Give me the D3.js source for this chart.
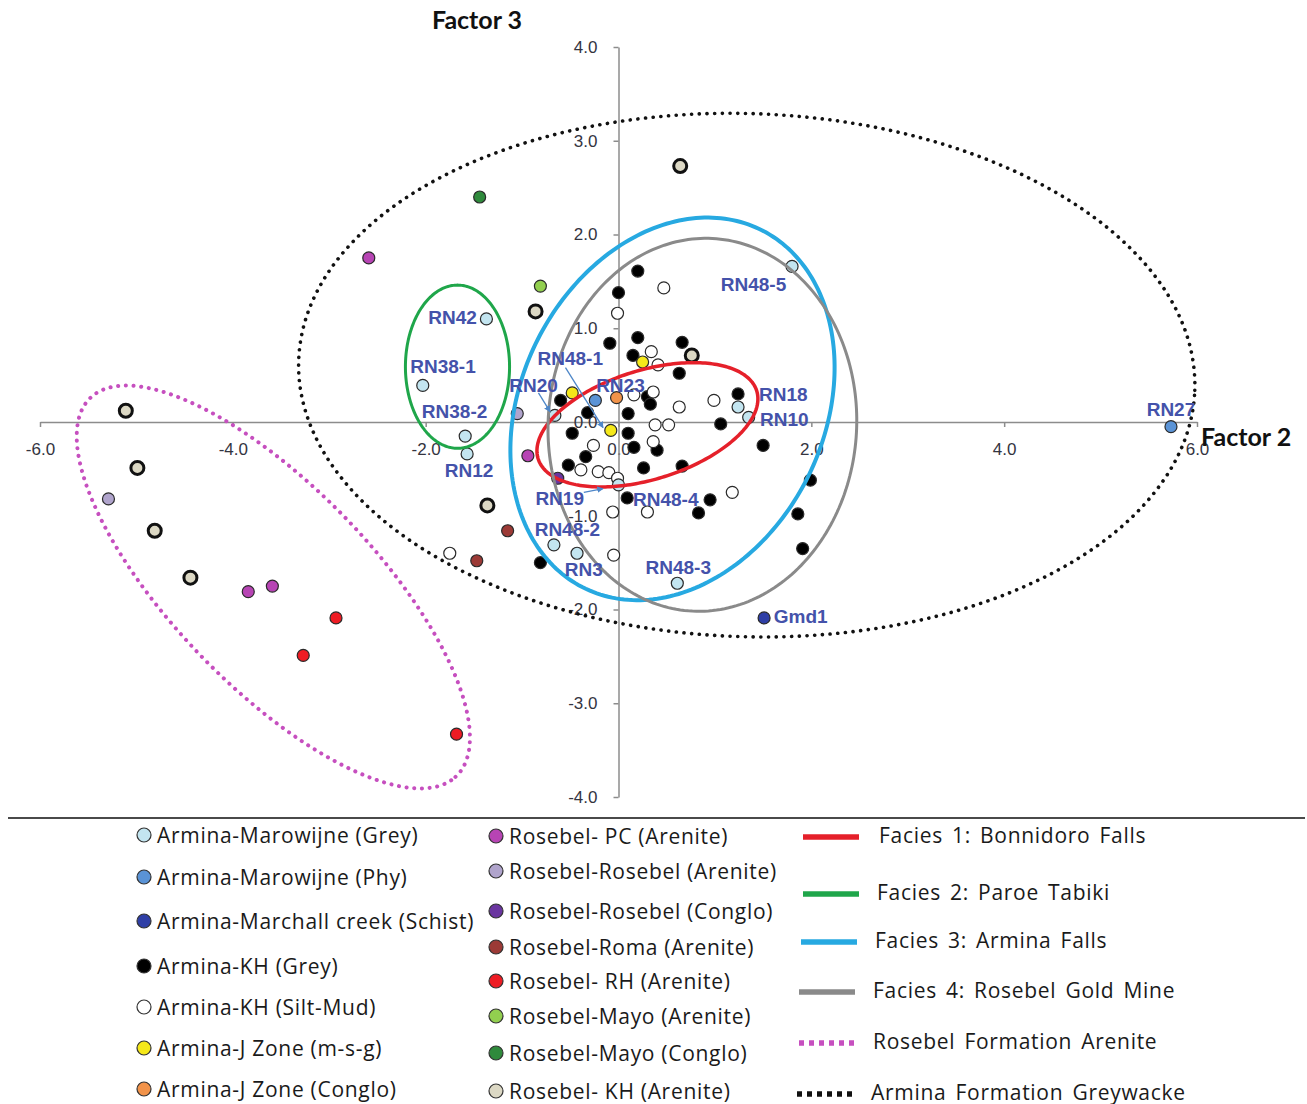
<!DOCTYPE html>
<html>
<head>
<meta charset="utf-8">
<script src="https://cdn.jsdelivr.net/npm/d3@7"></script>
<style>
  body { margin: 0; background: #fff; }
  svg { display: block; }
</style>
</head>
<body>
<svg id="chart" width="1307" height="1104"></svg>
<script>
// ---- Factor scores (Factor 2, Factor 3) per sample group ----
const marowijneGrey = [[-1.37,1.10],[-2.03,0.39],[-1.59,-0.15],[-1.57,-0.34],[-0.66,0.07],[1.80,1.66],
  [1.24,0.16],[1.35,0.05],[-0.67,-1.31],[-0.43,-1.40],[0.61,-1.72],[0.00,-0.67]];
const marowijnePhy = [[5.73,-0.05],[-0.24,0.23]];
const marchallSchist = [[1.51,-2.09]];
const khGrey = [[0.20,1.61],[0.00,1.38],[-0.09,0.84],[0.20,0.90],[0.15,0.71],[0.66,0.85],[0.63,0.52],
  [-0.60,0.23],[-0.32,0.10],[0.30,0.27],[0.33,0.19],[0.10,0.09],[-0.48,-0.12],[0.10,-0.12],[0.16,-0.27],
  [1.06,-0.02],[1.24,0.30],[-0.34,-0.37],[-0.52,-0.46],[0.40,-0.30],[0.26,-0.49],[0.66,-0.47],[0.09,-0.81],
  [0.95,-0.83],[0.83,-0.97],[-0.81,-1.50],[1.50,-0.25],[1.99,-0.62],[1.86,-0.98],[1.91,-1.35]];
const khSiltMud = [[0.47,1.43],[-0.01,1.16],[0.34,0.75],[0.41,0.61],[0.36,0.32],[0.16,0.29],[0.63,0.16],
  [0.99,0.23],[0.38,-0.03],[0.52,-0.03],[-0.26,-0.25],[0.36,-0.21],[-0.39,-0.51],[-0.21,-0.53],[-0.10,-0.54],
  [-0.01,-0.60],[-0.06,-0.96],[0.30,-0.96],[1.18,-0.75],[-0.05,-1.42],[-1.75,-1.40]];
const jZoneMsg = [[-0.48,0.31],[-0.08,-0.09],[0.25,0.64]];
const jZoneConglo = [[-0.02,0.26]];
const rosebelPC = [[-2.59,1.75],[-3.84,-1.81],[-3.59,-1.75],[-0.94,-0.36]];
const rosebelArenite = [[-5.29,-0.82],[-1.05,0.09]];
const rosebelConglo = [[-0.63,-0.60]];
const romaArenite = [[-1.15,-1.16],[-1.47,-1.48]];
const rhArenite = [[-2.93,-2.09],[-3.27,-2.49],[-1.68,-3.33]];
const mayoArenite = [[-0.81,1.45]];
const mayoConglo = [[-1.44,2.40]];
const khArenite = [[-5.11,0.12],[-4.99,-0.49],[-4.81,-1.16],[-4.44,-1.66],[-1.36,-0.89],[-0.86,1.18],
  [0.64,2.73],[0.76,0.71]];

const seriesNames = ["Armina-Marowijne (Grey)","Armina-Marowijne (Phy)","Armina-Marchall creek (Schist)",
  "Armina-KH (Grey)","Armina-KH (Silt-Mud)","Armina-J Zone (m-s-g)","Armina-J Zone (Conglo)",
  "Rosebel- PC (Arenite)","Rosebel-Rosebel (Arenite)","Rosebel-Rosebel (Conglo)","Rosebel-Roma (Arenite)",
  "Rosebel- RH (Arenite)","Rosebel-Mayo (Arenite)","Rosebel-Mayo (Conglo)","Rosebel- KH (Arenite)"];
const seriesData = [marowijneGrey, marowijnePhy, marchallSchist, khGrey, khSiltMud, jZoneMsg, jZoneConglo,
  rosebelPC, rosebelArenite, rosebelConglo, romaArenite, rhArenite, mayoArenite, mayoConglo, khArenite];
const seriesFill = ["#c3e5f0","#5a93d6","#2f3fa6","#000000","#ffffff","#f5e81a","#f2934a",
  "#b744b4","#b0a4cc","#6a35a0","#9c3a36","#ee1c24","#92cf4f","#2f8a3c","#dcd8c4"];
// draw order: dark/open groups first so coloured samples stay visible
const drawOrder = [3,4,14,7,8,9,10,11,12,13,0,1,2,6,5];

// ---- Facies envelopes: centre, semi-axes (data units) and rotation (deg) ----
const faciesNames = ["Facies 1: Bonnidoro Falls","Facies 2: Paroe Tabiki","Facies 3: Armina Falls",
  "Facies 4: Rosebel Gold Mine","Rosebel Formation Arenite","Armina Formation Greywacke"];
const faciesCenter = [[0.30,-0.03],[-1.67,0.59],[0.56,0.14],[0.87,-0.03],[-3.58,-1.76],[1.33,0.50]];
const faciesAxes = [[1.19,0.58],[0.54,0.87],[1.58,2.12],[1.60,1.99],[2.77,1.05],[4.65,2.79]];
const faciesAngle = [18, 0, -24, -3, -47, -2];
const faciesColor = ["#e5202a","#1fa64a","#27a9e1","#8a8a8a","#c64fbf","#111111"];
const faciesWidth = [3.5, 3, 4, 3, 4, 3.6];
const faciesDotted = [false,false,false,false,true,true];

// ---- Sample labels ----
const labelText = ["RN48-5","RN42","RN38-1","RN48-1","RN20","RN23","RN38-2","RN18","RN10","RN12",
  "RN19","RN48-4","RN48-2","RN3","RN48-3","Gmd1","RN27"];
const labelX = [1.40,-1.72,-1.82,-0.50,-0.88,0.02,-1.70,1.71,1.72,-1.55,-0.61,0.49,-0.53,-0.36,0.62,1.89,5.73];
const labelY = [1.47,1.11,0.59,0.68,0.39,0.39,0.11,0.29,0.03,-0.52,-0.82,-0.83,-1.15,-1.57,-1.55,-2.07,0.13];
const arrowFrom = [[-0.83,0.31],[-0.55,0.58],[-0.36,-0.75]];
const arrowTo = [[-0.71,0.11],[-0.16,-0.06],[-0.16,-0.71]];

const xTicks = [-6,-4,-2,0,2,4,6];
const yTicks = [-4,-3,-2,-1,0,1,2,3,4];

// ---- Scales ----
const svg = d3.select("#chart");
const x = d3.scaleLinear().domain([-6, 6]).range([40, 1197]);
const y = d3.scaleLinear().domain([-4, 4]).range([797, 47]);
const fmt = d => d.toFixed(1);

// ---- Axes ----
const axisColor = "#8c8c8c";
const gx = svg.append("g").attr("transform", `translate(0,${y(0)})`)
  .call(d3.axisBottom(x).tickValues(xTicks).tickFormat(fmt).tickSize(5).tickSizeOuter(0).tickPadding(16));
const gy = svg.append("g").attr("transform", `translate(${x(0)},0)`)
  .call(d3.axisLeft(y).tickValues(yTicks).tickFormat(fmt).tickSize(5).tickSizeOuter(0).tickPadding(16));
[gx, gy].forEach(g => {
  g.select(".domain").attr("stroke", axisColor).attr("stroke-width", 1.5);
  g.selectAll(".tick line").attr("stroke", axisColor).attr("stroke-width", 1.5);
  g.selectAll(".tick text").attr("fill", "#34343f")
    .style("font-family", "'Liberation Sans', Arial, sans-serif").style("font-size", "17px");
});

// axis titles
svg.append("text").attr("x", 477).attr("y", 29).attr("text-anchor", "middle")
  .style("font-family", "Lato, sans-serif").style("font-weight", "bold").style("font-size", "25px")
  .attr("fill", "#111").text("Factor 3");
svg.append("text").attr("x", 1201).attr("y", 446).attr("text-anchor", "start")
  .style("font-family", "Lato, sans-serif").style("font-weight", "bold").style("font-size", "25px")
  .attr("fill", "#111").text("Factor 2");

// ---- Sample points ----
const gPts = svg.append("g");
drawOrder.forEach(i => {
  const isKH = i === 14;
  gPts.selectAll(null).data(seriesData[i]).join("circle")
    .attr("cx", d => x(d[0])).attr("cy", d => y(d[1]))
    .attr("r", isKH ? 6.5 : 6)
    .attr("fill", seriesFill[i])
    .attr("stroke", isKH ? "#111" : "#2a2a2a")
    .attr("stroke-width", isKH ? 3 : 1.2);
});

// ---- Facies envelopes ----
function ellipsePoints(c, ax, deg) {
  const th = deg * Math.PI / 180;
  return d3.range(0, 360, 1.5).map(t => {
    const r = t * Math.PI / 180;
    const ex = ax[0] * Math.cos(r), ey = ax[1] * Math.sin(r);
    return [c[0] + ex * Math.cos(th) - ey * Math.sin(th), c[1] + ex * Math.sin(th) + ey * Math.cos(th)];
  });
}
const envLine = d3.line().x(d => x(d[0])).y(d => y(d[1])).curve(d3.curveLinearClosed);
const gEnv = svg.append("g").attr("fill", "none");
faciesNames.forEach((name, i) => {
  const p = gEnv.append("path")
    .attr("d", envLine(ellipsePoints(faciesCenter[i], faciesAxes[i], faciesAngle[i])))
    .attr("stroke", faciesColor[i]).attr("stroke-width", faciesWidth[i]);
  if (faciesDotted[i]) p.attr("stroke-dasharray", "0.1 7.6").attr("stroke-linecap", "round");
});

// ---- Labels and pointer arrows ----
const labelColor = "#4452aa";
svg.append("defs").append("marker").attr("id", "arrowHead")
  .attr("viewBox", "0 0 10 10").attr("refX", 9).attr("refY", 5)
  .attr("markerWidth", 5).attr("markerHeight", 5).attr("orient", "auto")
  .append("path").attr("d", "M0,0 L10,5 L0,10 z").attr("fill", "#4d86c8");
svg.append("g").selectAll("line").data(arrowFrom).join("line")
  .attr("x1", d => x(d[0])).attr("y1", d => y(d[1]))
  .attr("x2", (d, i) => x(arrowTo[i][0])).attr("y2", (d, i) => y(arrowTo[i][1]))
  .attr("stroke", "#4d86c8").attr("stroke-width", 1.3).attr("marker-end", "url(#arrowHead)");
svg.append("g").selectAll("text").data(labelText).join("text")
  .attr("x", (d, i) => x(labelX[i])).attr("y", (d, i) => y(labelY[i]))
  .attr("text-anchor", "middle").attr("dominant-baseline", "central")
  .style("font-family", "'Liberation Sans', Arial, sans-serif").style("font-weight", "bold")
  .style("font-size", "19px").attr("fill", labelColor).text(d => d);

// ---- Legend ----
svg.append("line").attr("x1", 8).attr("x2", 1305).attr("y1", 818).attr("y2", 818)
  .attr("stroke", "#4a4a4a").attr("stroke-width", 2);
const legendFont = "'Open Sans', sans-serif";
const col1Y = [835, 877, 921, 966, 1007, 1048, 1089];
const col2Y = [836, 871, 911, 947, 981, 1016, 1053, 1091];
const legendRows = seriesNames.map((n, i) => i < 7
  ? { i, cx: 144, tx: 157, cy: col1Y[i] }
  : { i, cx: 496, tx: 509, cy: col2Y[i - 7] });
const gLeg = svg.append("g");
legendRows.forEach(r => {
  gLeg.append("circle").attr("cx", r.cx).attr("cy", r.cy).attr("r", 7)
    .attr("fill", seriesFill[r.i]).attr("stroke", "#333").attr("stroke-width", 1.2);
  gLeg.append("text").attr("x", r.tx).attr("y", r.cy).attr("dominant-baseline", "central")
    .style("font-family", legendFont).style("font-size", "21px").style("letter-spacing", "0.7px")
    .attr("fill", "#1a1a1a").text(seriesNames[r.i]);
});
const col3Y = [835, 892, 940, 990, 1041, 1092];
const col3Sx = [803, 803, 801, 799, 799, 797];
const col3Tx = [879, 877, 875, 873, 873, 871];
faciesNames.forEach((name, i) => {
  const l = gLeg.append("line").attr("x1", col3Sx[i]).attr("x2", col3Sx[i] + 56)
    .attr("y1", col3Y[i] + 2).attr("y2", col3Y[i] + 2)
    .attr("stroke", faciesColor[i]).attr("stroke-width", 5.5);
  if (faciesDotted[i]) l.attr("stroke-dasharray", "5 5");
  gLeg.append("text").attr("x", col3Tx[i]).attr("y", col3Y[i]).attr("dominant-baseline", "central")
    .style("font-family", legendFont).style("font-size", "21px").style("letter-spacing", "0.7px")
    .style("word-spacing", "3px").attr("fill", "#1a1a1a").text(name);
});
</script>
</body>
</html>
